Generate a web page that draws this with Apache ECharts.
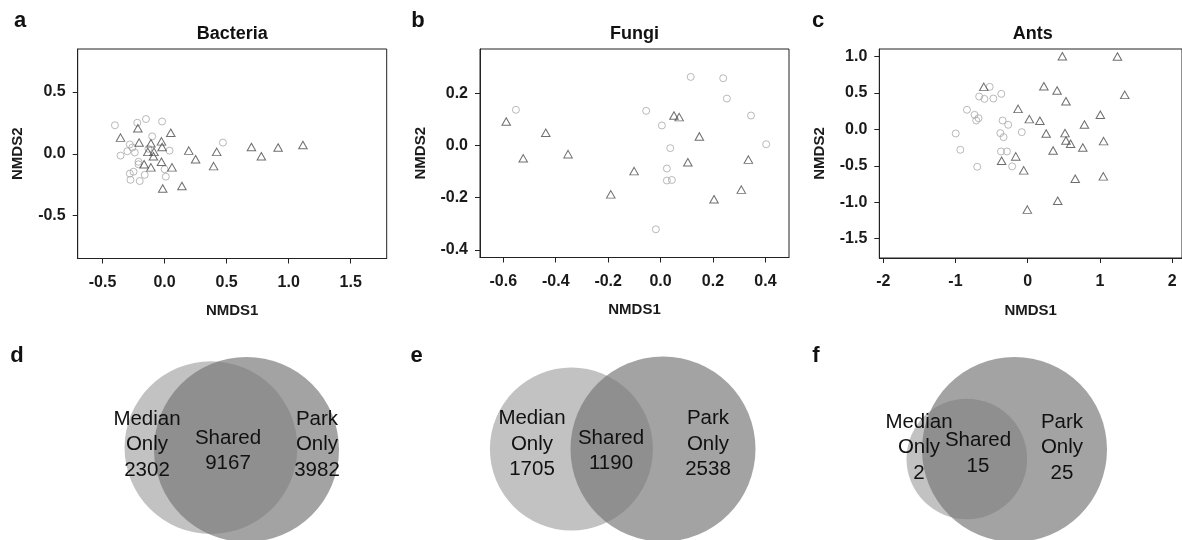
<!DOCTYPE html>
<html>
<head>
<meta charset="utf-8">
<script src="https://cdn.jsdelivr.net/npm/echarts@6/dist/echarts.min.js"></script>
<style>html,body{margin:0;padding:0;background:#fff}#chart{width:1182px;height:540px}</style>
</head>
<body>
<div id="chart"></div>
<script>
// ---------------- DATA ----------------
// NMDS ordination points: [NMDS1, NMDS2]
const bacteriaMedian = [[-0.40,0.23],[-0.22,0.25],[-0.15,0.28],[-0.02,0.26],[-0.10,0.14],[-0.28,0.075],[-0.30,0.02],[-0.355,-0.015],[-0.26,0.05],[-0.24,0.01],[-0.21,-0.065],[-0.21,-0.085],[-0.25,-0.145],[-0.28,-0.16],[-0.275,-0.21],[-0.20,-0.22],[-0.16,-0.17],[0.04,0.025],[0.0,-0.125],[0.01,-0.185],[0.47,0.09],[-0.13,0.04]];
const bacteriaPark = [[-0.355,0.13],[-0.215,0.205],[-0.205,0.09],[-0.11,0.085],[-0.135,0.015],[-0.085,0.015],[-0.09,-0.02],[-0.025,0.10],[-0.02,0.055],[-0.025,-0.065],[-0.165,-0.085],[-0.11,-0.11],[0.05,0.17],[0.06,-0.11],[-0.015,-0.28],[0.14,-0.26],[0.195,0.025],[0.25,-0.045],[0.42,0.015],[0.395,-0.10],[0.70,0.055],[0.78,-0.02],[0.915,0.05],[1.115,0.07]];
const fungiMedian = [[-0.552,0.137],[-0.055,0.133],[0.005,0.077],[0.037,-0.010],[0.024,-0.088],[0.024,-0.134],[0.043,-0.132],[-0.018,-0.321],[0.115,0.263],[0.239,0.258],[0.253,0.180],[0.345,0.115],[0.403,0.005]];
const fungiPark = [[-0.589,0.092],[-0.438,0.049],[-0.524,-0.049],[-0.353,-0.033],[-0.190,-0.187],[-0.101,-0.098],[0.051,0.115],[0.071,0.109],[0.148,0.035],[0.104,-0.064],[0.204,-0.206],[0.308,-0.169],[0.335,-0.054]];
const antsMedian = [[-0.997,-0.055],[-0.933,-0.279],[-0.841,0.270],[-0.736,0.201],[-0.713,0.123],[-0.681,0.155],[-0.699,-0.512],[-0.672,0.452],[-0.599,0.420],[-0.526,0.585],[-0.475,0.425],[-0.366,0.489],[-0.347,0.123],[-0.270,0.064],[-0.379,-0.050],[-0.334,-0.105],[-0.370,-0.302],[-0.288,-0.302],[-0.215,-0.507],[-0.082,-0.037]];
const antsPark = [[-0.608,0.585],[-0.133,0.283],[0.023,0.142],[0.169,0.119],[0.256,-0.055],[0.224,0.594],[0.407,0.535],[0.480,1.005],[0.530,0.388],[1.243,1.001],[1.344,0.475],[1.006,0.201],[0.786,0.069],[0.517,-0.050],[0.530,-0.151],[0.594,-0.197],[0.763,-0.247],[1.051,-0.160],[0.352,-0.288],[-0.165,-0.370],[-0.361,-0.430],[-0.055,-0.562],[0.658,-0.676],[1.047,-0.644],[0.416,-0.978],[-0.005,-1.101]];

// Tick values
const bacteriaXTicks = [-0.5, 0.0, 0.5, 1.0, 1.5];
const bacteriaYTicks = [-0.5, 0.0, 0.5];
const fungiXTicks = [-0.6, -0.4, -0.2, 0.0, 0.2, 0.4];
const fungiYTicks = [-0.4, -0.2, 0.0, 0.2];
const antsXTicks = [-2, -1, 0, 1, 2];
const antsYTicks = [-1.5, -1.0, -0.5, 0.0, 0.5, 1.0];

// Venn counts (bacteria, fungi, ants)
const vennMedianOnly = [2302, 1705, 2];
const vennShared = [9167, 1190, 15];
const vennParkOnly = [3982, 2538, 25];
const panelTitles = ['Bacteria', 'Fungi', 'Ants'];
const panelLetters = ['a', 'b', 'c', 'd', 'e', 'f'];

// ---------------- LAYOUT ----------------
const FONT = "'Liberation Sans', Arial, Helvetica, sans-serif";
const grids = [
  {left: 77.7, top: 49, width: 309, height: 209.5},
  {left: 480, top: 49, width: 309, height: 208.5},
  {left: 879.3, top: 49, width: 307, height: 209}
];
const limits = [
  {x: [-0.70, 1.79], y: [-0.845, 0.845]},
  {x: [-0.689, 0.49], y: [-0.429, 0.37]},
  {x: [-2.055, 2.137], y: [-1.765, 1.105]}
];
const vennLayout = [
  {park: [246.5, 449.5], angle: 183, labels: {median: [147, 444.5], shared: [228, 451], park: [317, 444.5]}},
  {park: [663, 449], angle: 180, labels: {median: [532, 444], shared: [611, 451], park: [708, 444]}},
  {park: [1014.5, 449.5], angle: 168.8, labels: {median: [919, 447.5], shared: [978, 453.5], park: [1062, 447.5]}}
];
const PARK_R = 92.5;
const letterPos = [[20, 20.5], [418, 20.5], [818, 20.5], [17, 355.5], [416.5, 355.5], [816, 355.5]];

// Area-proportional venn geometry
function lensArea(r1, r2, d) {
  if (d >= r1 + r2) return 0;
  if (d <= Math.abs(r1 - r2)) return Math.PI * Math.min(r1, r2) ** 2;
  const d1 = (d * d + r1 * r1 - r2 * r2) / (2 * d);
  const d2 = d - d1;
  const a1 = r1 * r1 * Math.acos(d1 / r1) - d1 * Math.sqrt(r1 * r1 - d1 * d1);
  const a2 = r2 * r2 * Math.acos(d2 / r2) - d2 * Math.sqrt(r2 * r2 - d2 * d2);
  return a1 + a2;
}
const vennCircles = [];
for (let i = 0; i < 3; i++) {
  const medTotal = vennMedianOnly[i] + vennShared[i];
  const parkTotal = vennParkOnly[i] + vennShared[i];
  const r2 = PARK_R;
  const r1 = PARK_R * Math.sqrt(medTotal / parkTotal);
  const target = vennShared[i] / parkTotal * Math.PI * r2 * r2;
  let lo = Math.abs(r2 - r1), hi = r1 + r2;
  for (let k = 0; k < 80; k++) {
    const mid = (lo + hi) / 2;
    if (lensArea(r1, r2, mid) > target) lo = mid; else hi = mid;
  }
  const dist = (lo + hi) / 2;
  const L = vennLayout[i];
  const a = L.angle * Math.PI / 180;
  vennCircles.push({
    median: [L.park[0] + dist * Math.cos(a), L.park[1] + dist * Math.sin(a), r1],
    park: [L.park[0], L.park[1], r2]
  });
}

// ---------------- OPTION ----------------
const fmt1 = v => Number(v).toFixed(1);
const fmt0 = v => String(Math.round(v));
const tickSets = [
  [bacteriaXTicks, bacteriaYTicks, fmt1, fmt1],
  [fungiXTicks, fungiYTicks, fmt1, fmt1],
  [antsXTicks, antsYTicks, fmt0, fmt1]
];
const tickColor = '#1a1a1a';
const xAxes = [], yAxes = [], gridOpts = [];
for (let i = 0; i < 3; i++) {
  gridOpts.push(Object.assign({show: true, borderColor: '#222', borderWidth: 1, backgroundColor: 'transparent', containLabel: false}, grids[i]));
  xAxes.push({
    gridIndex: i, type: 'value', min: limits[i].x[0], max: limits[i].x[1], position: 'bottom',
    axisLine: {show: true, onZero: false, lineStyle: {color: '#222', width: 1}}, splitLine: {show: false},
    axisTick: {show: true, inside: false, length: 5, customValues: tickSets[i][0], lineStyle: {color: '#222', width: 1}},
    axisLabel: {customValues: tickSets[i][0], formatter: tickSets[i][2], margin: 16, fontSize: 16, fontWeight: 'bold', color: tickColor, fontFamily: FONT},
    name: 'NMDS1', nameLocation: 'middle', nameGap: 45,
    nameTextStyle: {fontSize: 15, fontWeight: 'bold', color: tickColor, fontFamily: FONT}
  });
  yAxes.push({
    gridIndex: i, type: 'value', min: limits[i].y[0], max: limits[i].y[1], position: 'left',
    axisLine: {show: true, onZero: false, lineStyle: {color: '#222', width: 1}}, splitLine: {show: false},
    axisTick: {show: true, inside: false, length: 5, customValues: tickSets[i][1], lineStyle: {color: '#222', width: 1}},
    axisLabel: {customValues: tickSets[i][1], formatter: tickSets[i][3], margin: 12, fontSize: 16, fontWeight: 'bold', color: tickColor, fontFamily: FONT},
    name: 'NMDS2', nameLocation: 'middle', nameGap: 52,
    nameTextStyle: {fontSize: 15, fontWeight: 'bold', color: tickColor, fontFamily: FONT}
  });
}
// Venn coordinate system (pixel-like units)
gridOpts.push({left: 0, top: 0, width: 1182, height: 540, show: false});
xAxes.push({gridIndex: 3, type: 'value', min: 0, max: 1182, show: false});
yAxes.push({gridIndex: 3, type: 'value', min: 0, max: 540, inverse: true, show: false});

const circleStyle = {color: 'rgba(0,0,0,0)', borderColor: '#a8a8a8', borderWidth: 1};
const triStyle = {color: 'rgba(0,0,0,0)', borderColor: '#4a4a4a', borderWidth: 1};
const scatterSets = [[bacteriaMedian, bacteriaPark], [fungiMedian, fungiPark], [antsMedian, antsPark]];
const series = [];
scatterSets.forEach((s, i) => {
  series.push({type: 'scatter', xAxisIndex: i, yAxisIndex: i, data: s[0], symbol: 'circle', symbolSize: 7, itemStyle: circleStyle, silent: true, z: 3});
  series.push({type: 'scatter', xAxisIndex: i, yAxisIndex: i, data: s[1], symbol: 'triangle', symbolSize: [8.5, 7.5], itemStyle: triStyle, silent: true, z: 4});
});
function circleRenderer(fill) {
  return function (params, api) {
    const c = api.coord([api.value(0), api.value(1)]);
    const r = api.size([api.value(2), 0])[0];
    return {type: 'circle', shape: {cx: c[0], cy: c[1], r: r}, style: {fill: fill}};
  };
}
series.push({type: 'custom', xAxisIndex: 3, yAxisIndex: 3, data: vennCircles.map(v => v.median), renderItem: circleRenderer('rgba(133,133,133,0.5)'), silent: true, z: 1, encode: {x: 0, y: 1}});
series.push({type: 'custom', xAxisIndex: 3, yAxisIndex: 3, data: vennCircles.map(v => v.park), renderItem: circleRenderer('rgba(118,118,118,0.672)'), silent: true, z: 2, encode: {x: 0, y: 1}});

// Text graphics
const graphics = [];
function addText(txt, x, y, size, weight, lh) {
  graphics.push({type: 'text', x: x, y: y, z: 100, silent: true,
    style: {text: txt, x: 0, y: 0, fill: '#111', font: weight + ' ' + size + 'px ' + FONT,
      fontSize: size, fontWeight: weight, fontFamily: FONT, lineHeight: lh || size,
      align: 'center', verticalAlign: 'middle', textAlign: 'center', textVerticalAlign: 'middle'}});
}
panelTitles.forEach((t, i) => addText(t, grids[i].left + grids[i].width / 2, 34.4, 18, 'bold'));
panelLetters.forEach((t, i) => addText(t, letterPos[i][0], letterPos[i][1], 22, 'bold'));
vennLayout.forEach((L, i) => {
  addText('Median\nOnly\n' + vennMedianOnly[i], L.labels.median[0], L.labels.median[1], 20.5, 'normal', 25.5);
  addText('Shared\n' + vennShared[i], L.labels.shared[0], L.labels.shared[1], 20.5, 'normal', 25.5);
  addText('Park\nOnly\n' + vennParkOnly[i], L.labels.park[0], L.labels.park[1], 20.5, 'normal', 25.5);
});

const chart = echarts.init(document.getElementById('chart'), null, {renderer: 'canvas'});
chart.setOption({
  animation: false,
  backgroundColor: '#ffffff',
  textStyle: {fontFamily: FONT},
  grid: gridOpts,
  xAxis: xAxes,
  yAxis: yAxes,
  series: series,
  graphic: graphics
});
</script>
</body>
</html>
